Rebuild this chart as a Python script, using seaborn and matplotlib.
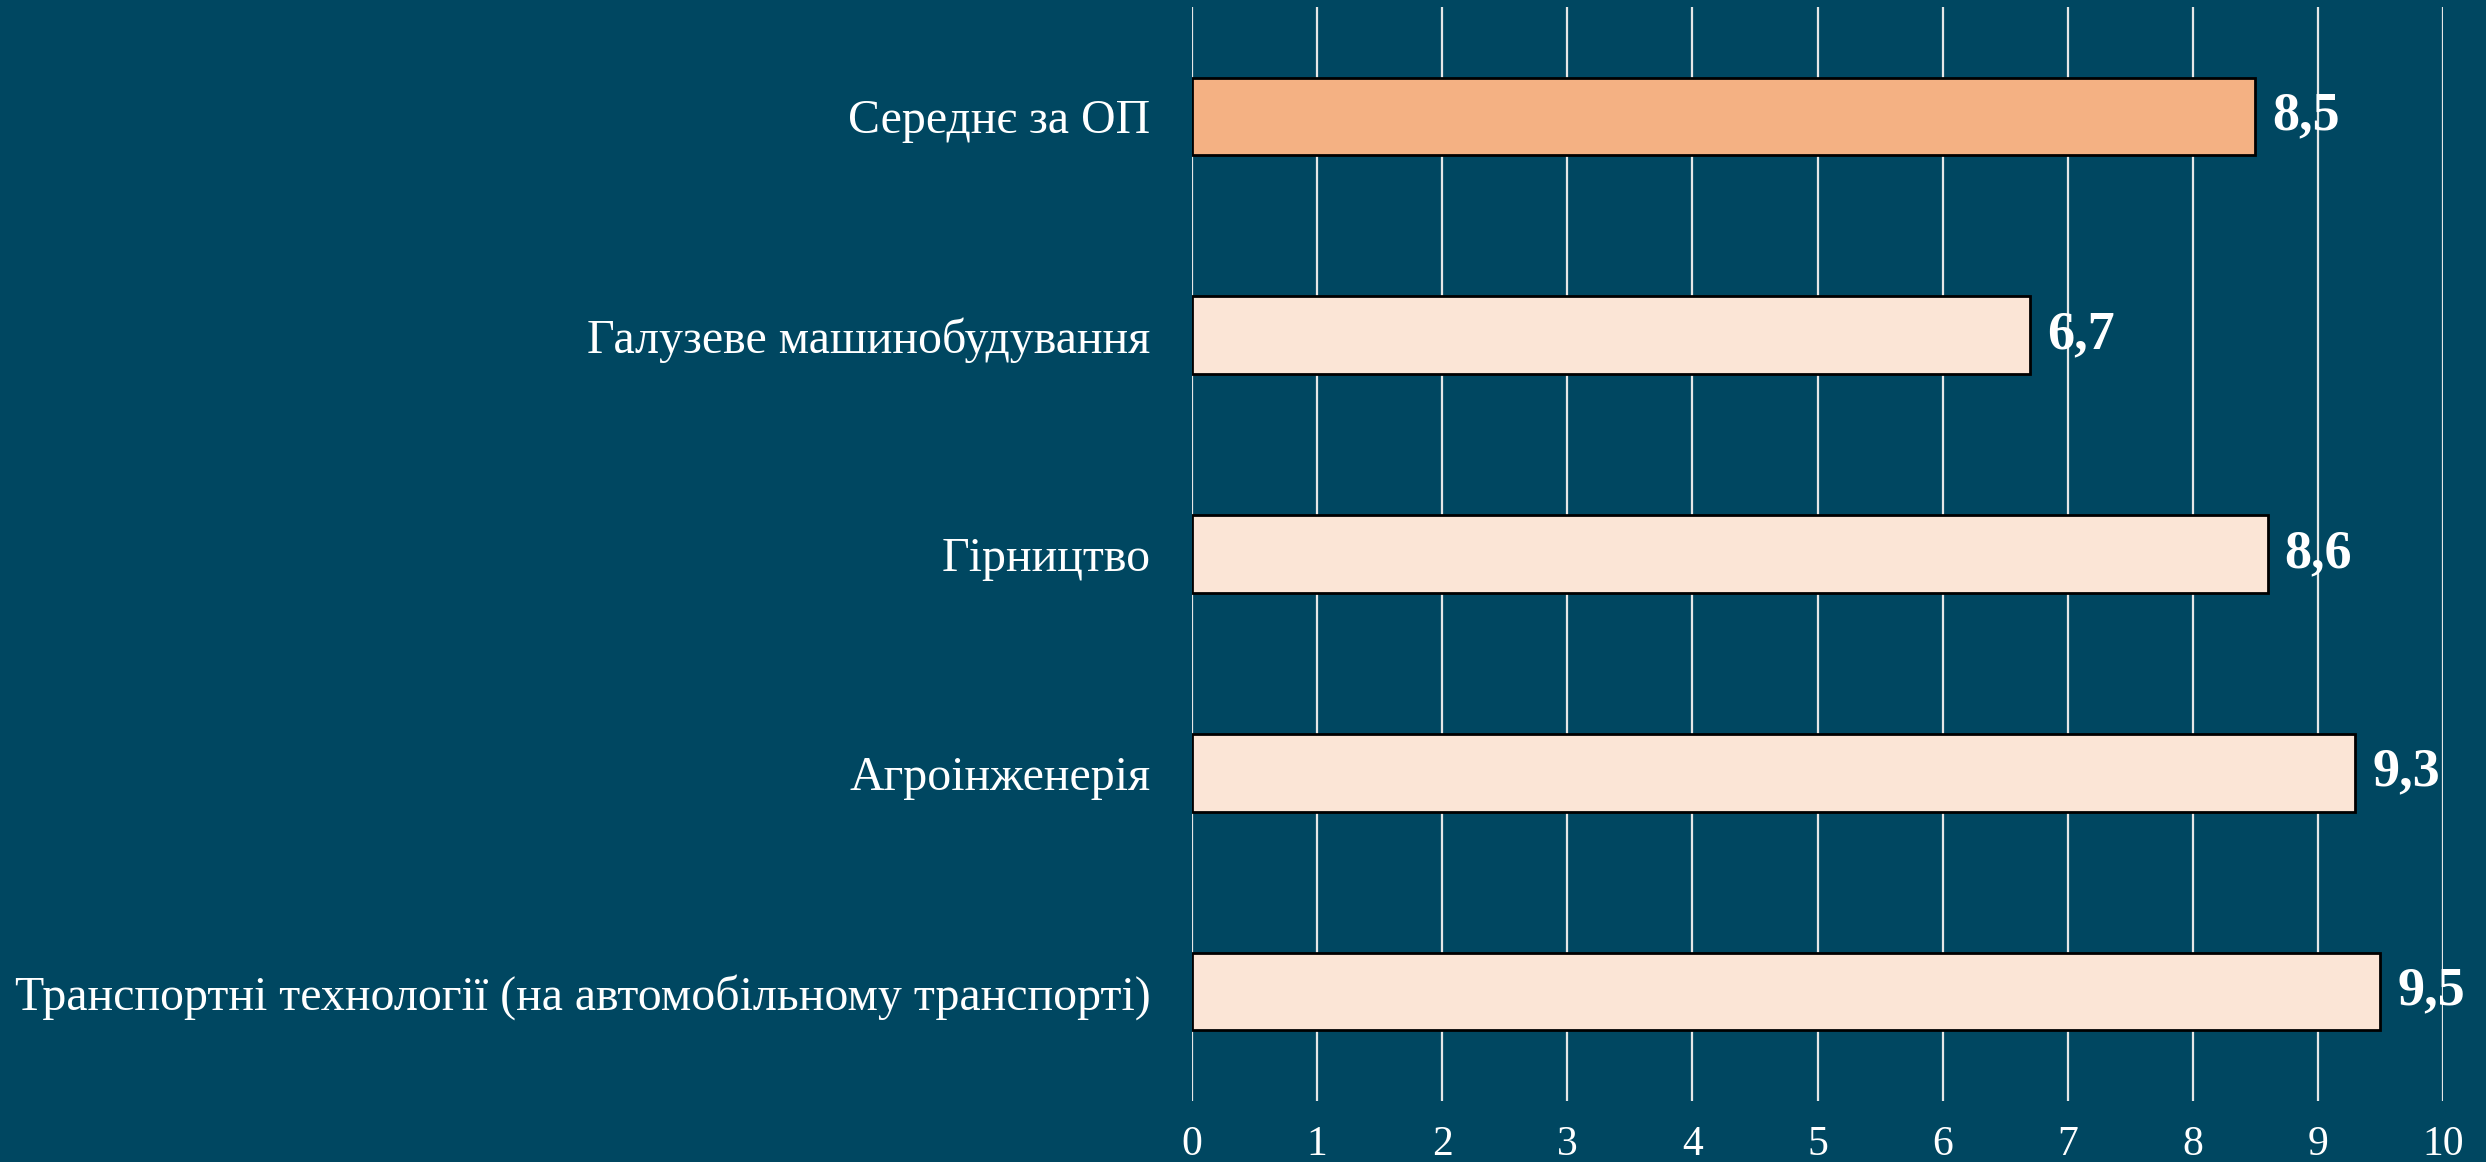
import matplotlib
matplotlib.use("Agg")
import matplotlib.pyplot as plt
import seaborn as sns
import pandas as pd

categories = [
    "Середнє за ОП",
    "Галузеве машинобудування",
    "Гірництво",
    "Агроінженерія",
    "Транспортні технології (на автомобільному транспорті)",
]
values = [8.5, 6.7, 8.6, 9.3, 9.5]
value_labels = ["8,5", "6,7", "8,6", "9,3", "9,5"]
x_ticks = [0, 1, 2, 3, 4, 5, 6, 7, 8, 9, 10]

bg = "#004761"
bar_colors = ["#F4B183", "#FBE5D6", "#FBE5D6", "#FBE5D6", "#FBE5D6"]

sns.set_theme(style="white")
plt.rcParams['font.family'] = ['Liberation Serif', 'DejaVu Serif']

df = pd.DataFrame({"cat": categories, "val": values})

fig = plt.figure(figsize=(24.86, 11.62), dpi=100, facecolor=bg)
ax = fig.add_axes([0.4795, 0.0525, 0.9827 - 0.4795, 0.994 - 0.0525])
ax.set_facecolor(bg)

sns.barplot(data=df, x="val", y="cat", hue="cat", palette=bar_colors,
            legend=False, width=0.355, edgecolor="black", linewidth=2.0,
            saturation=1, ax=ax, zorder=3)

ax.set_xlim(0, 10)
ax.set_xticks(x_ticks)
ax.set_xticklabels([str(t) for t in x_ticks])
ax.grid(axis="x", color="#E6E6E6", linewidth=1.6, zorder=0)
ax.set_axisbelow(True)
for s in ax.spines.values():
    s.set_visible(False)
ax.set_xlabel("")
ax.set_ylabel("")
ax.tick_params(axis="x", length=0, pad=18, labelsize=30, labelcolor="white")
ax.tick_params(axis="y", length=0, pad=30, labelsize=34.5, labelcolor="white")

for i, (v, lab) in enumerate(zip(values, value_labels)):
    ax.annotate(lab, xy=(v, i), xytext=(12, 0), textcoords="offset points",
                ha="left", va="center", fontsize=39, fontweight="bold",
                color="white", zorder=5)

fig.savefig("out.png", dpi=100, facecolor=bg)
